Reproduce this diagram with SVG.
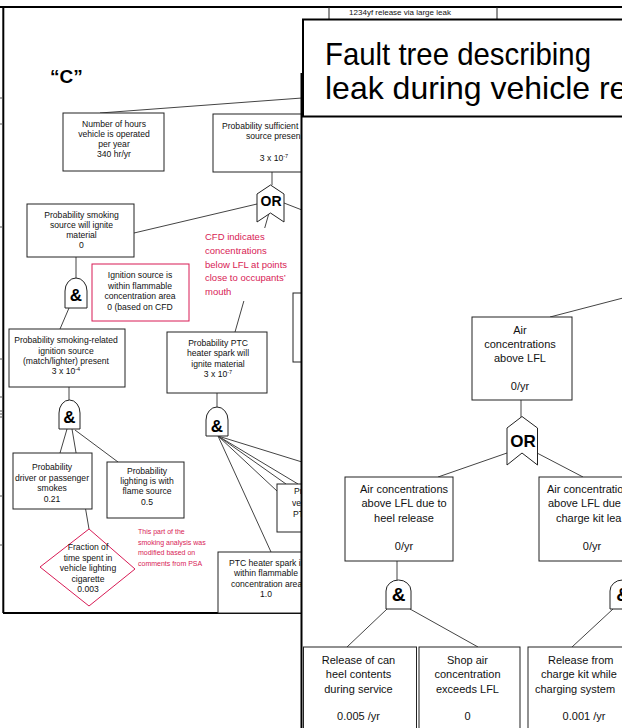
<svg xmlns="http://www.w3.org/2000/svg" width="622" height="728" viewBox="0 0 622 728">
<style>
.bx{fill:#fff;stroke:#222;stroke-width:1}
.rb{fill:#fff;stroke:#d81b55;stroke-width:1}
.ln{stroke:#444;stroke-width:1;fill:none}
.fr{stroke:#000;stroke-width:2;fill:none}
.g{fill:#fff;stroke:#222;stroke-width:1}
.t{font-family:'Liberation Sans',Arial,sans-serif;font-size:8.6px;fill:#111;text-anchor:middle}
.ts{font-family:'Liberation Sans',Arial,sans-serif;font-size:8.6px;fill:#111}
.t2{font-family:'Liberation Sans',Arial,sans-serif;font-size:11px;fill:#111;text-anchor:middle}
.t2s{font-family:'Liberation Sans',Arial,sans-serif;font-size:11px;fill:#111}
.red{font-family:'Liberation Sans',Arial,sans-serif;fill:#d81b55}
.gt{font-family:'Liberation Sans',Arial,sans-serif;font-weight:bold;fill:#000;text-anchor:middle}
.tick{stroke:#555;stroke-width:1}
</style>

<!-- ===== Left slide (background) ===== -->
<g id="left-frame">
  <line class="fr" x1="0" y1="7" x2="622" y2="7" stroke-width="1.5"/>
  <line class="fr" x1="3.3" y1="7" x2="3.3" y2="613"/>
  <line class="fr" x1="3" y1="613" x2="302" y2="613"/>
  <g class="tick">
    <line x1="0" y1="98" x2="3" y2="98"/>
    <line x1="0" y1="124" x2="3" y2="124"/>
    <line x1="0" y1="227" x2="3" y2="227"/>
    <line x1="0" y1="359" x2="3" y2="359"/>
    <line x1="0" y1="397" x2="3" y2="397"/>
    <line x1="0" y1="411" x2="3" y2="411"/>
    <line x1="0" y1="414" x2="3" y2="414"/>
    <line x1="0" y1="417" x2="3" y2="417"/>
    <line x1="0" y1="496" x2="3" y2="496"/>
    <line x1="0" y1="545" x2="3" y2="545"/>
  </g>
  <text x="50" y="83" font-family="'Liberation Sans',Arial,sans-serif" font-size="19" font-weight="bold" fill="#000">“C”</text>
</g>

<g id="connectors-left" class="ln">
  <line x1="100" y1="113" x2="302" y2="98"/>
  <line x1="272" y1="172" x2="272" y2="185"/>
  <line x1="257" y1="204" x2="134" y2="233"/>
  <line x1="284" y1="203" x2="302" y2="210"/>
  <line x1="269" y1="213" x2="235" y2="332"/>
  <line x1="76" y1="257" x2="76" y2="280"/>
  <line x1="69" y1="308" x2="60" y2="329"/>
  <line x1="69" y1="387" x2="69" y2="401"/>
  <line x1="67" y1="429" x2="60" y2="453"/>
  <line x1="72" y1="429" x2="89" y2="529"/>
  <line x1="75" y1="430" x2="118" y2="462"/>
  <line x1="217" y1="393" x2="217" y2="408"/>
  <line x1="218" y1="436" x2="271" y2="552"/>
  <line x1="218" y1="436" x2="277" y2="491"/>
  <line x1="218" y1="436" x2="286" y2="484"/>
  <line x1="218" y1="436" x2="298" y2="484"/>
  <line x1="218" y1="436" x2="302" y2="462"/>
</g>

<g id="node-hours">
  <rect class="bx" x="63" y="113" width="101" height="58"/>
  <text class="t" x="114" y="127">Number of hours</text>
  <text class="t" x="114" y="137">vehicle is operated</text>
  <text class="t" x="114" y="147">per year</text>
  <text class="t" x="114" y="157">340 hr/yr</text>
</g>

<g id="node-sufficient">
  <rect class="bx" x="213" y="114" width="117" height="58"/>
  <text class="ts" x="222" y="129">Probability sufficient</text>
  <text class="ts" x="246" y="139">source presen</text>
  <text class="t" x="274" y="161">3 x 10<tspan font-size="5.5" dy="-3">-7</tspan></text>
</g>

<g id="gate-or-1">
  <path class="g" d="M270.5,185 L284,194 L284,222 L270.5,213 L257,222 L257,194 Z"/>
  <text class="gt" x="271" y="206" font-size="14">OR</text>
</g>

<g id="node-smoking">
  <rect class="bx" x="27" y="204" width="107" height="53"/>
  <text class="t" x="81.5" y="218">Probability smoking</text>
  <text class="t" x="81.5" y="228">source will ignite</text>
  <text class="t" x="81.5" y="238">material</text>
  <text class="t" x="81.5" y="248">0</text>
</g>

<g id="note-cfd">
  <rect x="203" y="228" width="90" height="73" fill="#fff"/>
  <text class="red" font-size="9.5" x="205" y="240">CFD indicates</text>
  <text class="red" font-size="9.5" x="205" y="254">concentrations</text>
  <text class="red" font-size="9.5" x="205" y="268">below LFL at points</text>
  <text class="red" font-size="9.5" x="205" y="281">close to occupants’</text>
  <text class="red" font-size="9.5" x="205" y="295">mouth</text>
</g>

<g id="gate-and-1">
  <path class="g" d="M65,308V291A11,13 0 0 1 87,291V308Z"/>
  <text class="gt" x="76" y="301" font-size="17">&amp;</text>
</g>

<g id="node-ignition-area">
  <rect class="rb" x="92" y="264" width="97" height="57"/>
  <text class="t" x="140" y="278">Ignition source is</text>
  <text class="t" x="140" y="288.5">within flammable</text>
  <text class="t" x="140" y="299">concentration area</text>
  <text class="t" x="140" y="309.5">0 (based on CFD</text>
</g>

<g id="node-smoking-related">
  <rect class="bx" x="9" y="329" width="116" height="58"/>
  <text class="t" x="66" y="343">Probability smoking-related</text>
  <text class="t" x="66" y="354">ignition source</text>
  <text class="t" x="66" y="364">(match/lighter) present</text>
  <text class="t" x="66" y="374">3  x 10<tspan font-size="5.5" dy="-3">-4</tspan></text>
</g>

<g id="node-ptc">
  <rect class="bx" x="167" y="332" width="100" height="61"/>
  <text class="t" x="218" y="346">Probability PTC</text>
  <text class="t" x="218" y="356">heater spark will</text>
  <text class="t" x="218" y="367">ignite material</text>
  <text class="t" x="218" y="377">3  x 10<tspan font-size="5.5" dy="-3">-7</tspan></text>
</g>

<g id="node-hidden-1">
  <rect class="bx" x="293" y="293" width="40" height="69"/>
</g>

<g id="gate-and-2">
  <path class="g" d="M59,429V413A10.5,13 0 0 1 80,413V429Z"/>
  <text class="gt" x="69.5" y="423" font-size="17">&amp;</text>
</g>

<g id="gate-and-3">
  <path class="g" d="M206,436V420A11,13 0 0 1 228,420V436Z"/>
  <text class="gt" x="217" y="432" font-size="17">&amp;</text>
</g>

<g id="node-driver">
  <rect class="bx" x="13" y="453" width="79" height="56"/>
  <text class="t" x="52" y="470">Probability</text>
  <text class="t" x="52" y="481">driver or passenger</text>
  <text class="t" x="52" y="491">smokes</text>
  <text class="t" x="52" y="502">0.21</text>
</g>

<g id="node-lighting">
  <rect class="bx" x="107" y="462" width="77" height="56"/>
  <text class="t" x="147" y="474">Probability</text>
  <text class="t" x="147" y="484">lighting is with</text>
  <text class="t" x="147" y="494">flame source</text>
  <text class="t" x="147" y="505">0.5</text>
</g>

<g id="node-fraction">
  <polygon class="rb" points="89,529 135,569 89,606 40,567"/>
  <text class="t" x="88" y="550" font-size="9">Fraction of</text>
  <text class="t" x="88" y="560.5" font-size="9">time spent in</text>
  <text class="t" x="88" y="571" font-size="9">vehicle lighting</text>
  <text class="t" x="88" y="581.5" font-size="9">cigarette</text>
  <text class="t" x="88" y="592" font-size="9">0.003</text>
</g>

<g id="note-psa">
  <text class="red" font-size="7" x="138" y="534">This part of the</text>
  <text class="red" font-size="7" x="138" y="544.5">smoking analysis was</text>
  <text class="red" font-size="7" x="138" y="555">modified based on</text>
  <text class="red" font-size="7" x="138" y="566">comments from PSA</text>
</g>

<g id="node-ptc-vehicle">
  <rect class="bx" x="277" y="484" width="55" height="48"/>
  <text class="ts" x="294" y="494">Pr</text>
  <text class="ts" x="292" y="506">ve</text>
  <text class="ts" x="293" y="517">PT</text>
</g>

<g id="node-ptc-area">
  <rect class="bx" x="218" y="552" width="112" height="61"/>
  <text class="ts" x="229" y="566">PTC heater spark i</text>
  <text class="t" x="266" y="576">within flammable</text>
  <text class="ts" x="231" y="587">concentration area</text>
  <text class="t" x="266" y="597">1.0</text>
</g>

<!-- ===== Right slide (foreground) ===== -->
<g id="right-panel">
  <rect x="302" y="18" width="322" height="712" fill="#fff"/>
  <line class="fr" x1="301.5" y1="73" x2="301.5" y2="728" stroke-width="2.5"/>
  <line stroke="#222" stroke-width="1" x1="329" y1="7" x2="329" y2="19"/>
  <line stroke="#222" stroke-width="1" x1="497" y1="7" x2="497" y2="19"/>
  <text x="400" y="15" font-family="'Liberation Sans',Arial,sans-serif" font-size="8" fill="#111" text-anchor="middle">1234yf release via large leak</text>
</g>

<g id="title">
  <rect x="303" y="19.5" width="322" height="97" fill="#fff" stroke="#000" stroke-width="2"/>
  <text x="325" y="65" font-family="'Liberation Sans',Arial,sans-serif" font-size="32" fill="#000" textLength="266" lengthAdjust="spacingAndGlyphs">Fault tree describing</text>
  <text x="325" y="99" font-family="'Liberation Sans',Arial,sans-serif" font-size="32" fill="#000">leak during vehicle re</text>
</g>

<g id="connectors-right" class="ln">
  <line x1="550" y1="317" x2="623" y2="298"/>
  <line x1="521" y1="400" x2="521" y2="417"/>
  <line x1="507" y1="453" x2="438" y2="477"/>
  <line x1="537" y1="453" x2="583" y2="477"/>
  <line x1="397" y1="561" x2="397" y2="582"/>
  <line x1="387" y1="609" x2="347" y2="647"/>
  <line x1="410" y1="609" x2="478" y2="647"/>
  <line x1="613" y1="609" x2="572" y2="647"/>
</g>

<g id="node-air-lfl">
  <rect class="bx" x="472" y="317" width="100" height="83"/>
  <text class="t2" x="520" y="334">Air</text>
  <text class="t2" x="520" y="348">concentrations</text>
  <text class="t2" x="520" y="362">above LFL</text>
  <text class="t2" x="520" y="390">0/yr</text>
</g>

<g id="gate-or-2">
  <path class="g" d="M522,416.5 L537.5,428 L537.5,465 L522,453 L507,465 L507,428 Z"/>
  <text class="gt" x="523" y="447" font-size="17">OR</text>
</g>

<g id="node-heel">
  <rect class="bx" x="345" y="477" width="108" height="84"/>
  <text class="t2" x="404" y="493">Air concentrations</text>
  <text class="t2" x="404" y="507">above LFL due to</text>
  <text class="t2" x="404" y="522">heel release</text>
  <text class="t2" x="404" y="550">0/yr</text>
</g>

<g id="node-chargekit">
  <rect class="bx" x="539" y="477" width="110" height="84"/>
  <text class="t2s" x="547" y="493">Air concentratio</text>
  <text class="t2s" x="548" y="507">above LFL due</text>
  <text class="t2s" x="556" y="522">charge kit lea</text>
  <text class="t2" x="592" y="550">0/yr</text>
</g>

<g id="gate-and-4">
  <path class="g" d="M386,609V591A12.5,11 0 0 1 411,591V609Z"/>
  <text class="gt" x="398.5" y="601" font-size="19">&amp;</text>
</g>

<g id="gate-and-5">
  <path class="g" d="M610,609V591A12.5,11 0 0 1 635,591V609Z"/>
  <text class="gt" x="623" y="601" font-size="19">&amp;</text>
</g>

<g id="node-can-heel">
  <rect class="bx" x="303.5" y="647" width="113" height="90"/>
  <text class="t2" x="358.5" y="664">Release of can</text>
  <text class="t2" x="358.5" y="678">heel contents</text>
  <text class="t2" x="358.5" y="693">during service</text>
  <text class="t2" x="358.5" y="720">0.005 /yr</text>
</g>

<g id="node-shop-air">
  <rect class="bx" x="419" y="647" width="101" height="90"/>
  <text class="t2" x="467.5" y="664">Shop air</text>
  <text class="t2" x="467.5" y="678">concentration</text>
  <text class="t2" x="467.5" y="693">exceeds LFL</text>
  <text class="t2" x="467.5" y="720">0</text>
</g>

<g id="node-charge-release">
  <rect class="bx" x="528" y="647" width="110" height="90"/>
  <text class="t2s" x="548" y="664">Release from</text>
  <text class="t2s" x="541" y="678">charge kit while</text>
  <text class="t2s" x="535" y="693">charging system</text>
  <text class="t2" x="584" y="720">0.001 /yr</text>
</g>
</svg>
